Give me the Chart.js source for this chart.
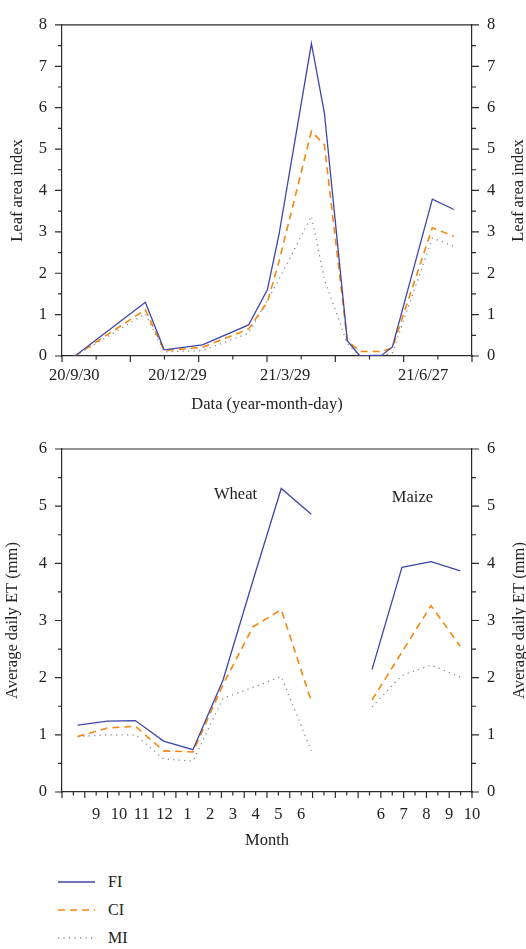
<!DOCTYPE html>
<html>
<head>
<meta charset="utf-8">
<title>Leaf area index and average daily ET</title>
<script src="https://cdn.jsdelivr.net/npm/chart.js@4.4.1/dist/chart.umd.min.js"></script>
<style>
    html, body { margin: 0; padding: 0; background: #fff; }
    body {
        width: 526px; height: 949px; position: relative; overflow: hidden;
        font-family: "Liberation Serif", "DejaVu Serif", serif; color: #222;
    }
    .panel { position: absolute; left: 0; }
    #lai-chart { top: 0; }
    #et-chart { top: 420px; }
    #legend { position: absolute; left: 0; top: 868px; width: 200px; height: 81px; }
    .legend-row { position: absolute; left: 58px; height: 28px; display: flex; align-items: center; font-size: 16px; }
    .legend-row svg { margin-right: 12px; }
</style>
</head>
<body>
<canvas id="lai-chart" class="panel" width="526" height="418"></canvas>
<canvas id="et-chart" class="panel" width="526" height="434"></canvas>
<div id="legend"></div>

<script>
// Top panel: leaf area index over the season
const laiTickPos = [0.36, 3.38, 6.53, 10.57];
const laiTickLabels = ['20/9/30', '20/12/29', '21/3/29', '21/6/27'];
const laiX  = [0.38, 2.44, 2.99, 4.11, 5.46, 6.01, 6.35, 7.30, 7.68, 8.35, 8.72, 9.36, 9.67, 10.84, 11.47];
const laiFI = [0, 1.30, 0.15, 0.27, 0.75, 1.60, 2.93, 7.55, 5.87, 0.37, 0, 0.02, 0.22, 3.79, 3.54];
const laiCI = [0, 1.12, 0.13, 0.21, 0.65, 1.30, 2.28, 5.43, 5.10, 0.37, 0.11, 0.11, 0.20, 3.10, 2.89];
const laiMI = [0, 1.02, 0.10, 0.13, 0.55, 1.35, 1.85, 3.38, 1.85, 0.30, 0, 0, 0.08, 2.85, 2.65];

// Bottom panel: average daily ET per month
const monthTickPos = [3, 5, 7, 9, 11, 13, 15, 17, 19, 21, 28, 30, 32, 34, 36];
const monthLabels = ['9', '10', '11', '12', '1', '2', '3', '4', '5', '6', '6', '7', '8', '9', '10'];
const wheatX = [1.37, 4.0, 6.44, 8.92, 11.5, 14.14, 16.77, 19.25, 21.89];
const maizeX = [27.22, 29.85, 32.4, 34.97];
const etFIWheat = [1.17, 1.24, 1.25, 0.89, 0.74, 1.96, 3.70, 5.31, 4.86];
const etCIWheat = [0.97, 1.12, 1.15, 0.72, 0.70, 1.88, 2.89, 3.19, 1.59];
const etMIWheat = [0.97, 1.00, 1.00, 0.58, 0.54, 1.64, 1.83, 2.02, 0.72];
const etFIMaize = [2.14, 3.93, 4.03, 3.87];
const etCIMaize = [1.61, 2.45, 3.26, 2.55];
const etMIMaize = [1.49, 2.04, 2.22, 2.01];

const seriesNames = ['FI', 'CI', 'MI'];

const AXIS_COLOR = '#2b2b2b';
const FONT = '"Liberation Serif", "DejaVu Serif", serif';
const seriesStyle = [
    { color: '#3f46a9', width: 1.3, dash: [] },
    { color: '#f7860f', width: 1.6, dash: [7, 5] },
    { color: '#8a8a8a', width: 1.3, dash: [1.2, 4.3] }
];

Chart.defaults.font.family = FONT;
Chart.defaults.font.size = 16.5;
Chart.defaults.color = '#222';

// Frame top edge, tick marks (major + minor), crop labels, right axis title
const panelDecor = {
    id: 'panelDecor',
    afterDraw(chart, args, opts) {
        const { ctx, chartArea: area, scales } = chart;
        ctx.save();
        ctx.strokeStyle = AXIS_COLOR;
        ctx.lineWidth = 1.2;
        ctx.beginPath();
        ctx.moveTo(area.left, area.top);
        ctx.lineTo(area.right, area.top);

        for (let v = scales.x.min; v <= scales.x.max; v += 1) {
            const len = (v % 2 === 0) ? 6 : 3.5;
            const px = scales.x.getPixelForValue(v);
            ctx.moveTo(px, area.bottom);
            ctx.lineTo(px, area.bottom + len);
        }
        for (let v = scales.y.min; v <= scales.y.max; v += 0.5) {
            const len = Number.isInteger(v) ? 7 : 4;
            const py = scales.y.getPixelForValue(v);
            ctx.moveTo(area.left, py);
            ctx.lineTo(area.left - len, py);
            ctx.moveTo(area.right, py);
            ctx.lineTo(area.right + len, py);
        }
        ctx.stroke();

        ctx.fillStyle = '#222';
        ctx.font = '16.5px ' + FONT;
        ctx.textAlign = 'center';
        (opts.notes || []).forEach(note => {
            ctx.textBaseline = 'alphabetic';
            ctx.fillText(note.text, scales.x.getPixelForValue(note.x), scales.y.getPixelForValue(note.y));
        });

        if (opts.rightTitle) {
            ctx.translate(opts.rightTitleX, (area.top + area.bottom) / 2);
            ctx.rotate(-Math.PI / 2);
            ctx.textBaseline = 'middle';
            ctx.fillText(opts.rightTitle, 0, 0);
        }
        ctx.restore();
    }
};

function lineDataset(label, points, style) {
    return {
        label: label,
        data: points,
        borderColor: style.color,
        borderWidth: style.width,
        borderDash: style.dash,
        pointRadius: 0,
        fill: false,
        tension: 0,
        spanGaps: false
    };
}

function pairUp(xs, ys) {
    return xs.map((x, i) => ({ x: x, y: ys[i] }));
}

function makePanel(canvasId, cfg) {
    return new Chart(document.getElementById(canvasId), {
        type: 'line',
        data: { datasets: cfg.datasets },
        options: {
            responsive: false,
            animation: false,
            layout: { padding: { top: cfg.padTop, left: 0, right: 0, bottom: 0 } },
            plugins: {
                legend: { display: false },
                tooltip: { enabled: false },
                panelDecor: {
                    notes: cfg.notes,
                    rightTitle: cfg.yTitle,
                    rightTitleX: cfg.rightTitleX
                }
            },
            scales: {
                x: {
                    type: 'linear',
                    min: 0,
                    max: cfg.xMax,
                    grid: { display: false, drawTicks: false },
                    border: { display: true, color: AXIS_COLOR, width: 1.2 },
                    afterFit: (scale) => { scale.height = 62; },
                    afterBuildTicks: (scale) => {
                        scale.ticks = cfg.tickPos.map(v => ({ value: v }));
                    },
                    ticks: {
                        autoSkip: false,
                        maxRotation: 0,
                        padding: cfg.xLabelPad,
                        callback: (value, index) => cfg.tickLabels[index]
                    },
                    title: {
                        display: true,
                        text: cfg.xTitle,
                        padding: { top: 0, bottom: 3 }
                    }
                },
                y: {
                    position: 'left',
                    min: 0,
                    max: cfg.yMax,
                    grid: { display: false, drawTicks: false },
                    border: { display: true, color: AXIS_COLOR, width: 1.2 },
                    afterFit: (scale) => { scale.width = 62; },
                    ticks: { stepSize: 1, padding: 15 },
                    title: {
                        display: true,
                        text: cfg.yTitle,
                        padding: { top: cfg.yTitlePad, bottom: 0 }
                    }
                },
                yRight: {
                    position: 'right',
                    min: 0,
                    max: cfg.yMax,
                    grid: { display: false, drawTicks: false },
                    border: { display: true, color: AXIS_COLOR, width: 1.2 },
                    afterFit: (scale) => { scale.width = 54; },
                    ticks: { stepSize: 1, padding: 15 }
                }
            }
        },
        plugins: [panelDecor]
    });
}

document.addEventListener('DOMContentLoaded', function() {
    // Leaf area index panel
    const laiSeries = [laiFI, laiCI, laiMI];
    makePanel('lai-chart', {
        datasets: laiSeries.map((ys, i) => lineDataset(seriesNames[i], pairUp(laiX, ys), seriesStyle[i])),
        padTop: 13,
        xMax: 12,
        yMax: 8,
        tickPos: laiTickPos,
        tickLabels: laiTickLabels,
        xLabelPad: 10,
        xTitle: 'Data (year-month-day)',
        yTitle: 'Leaf area index',
        yTitlePad: 7.7,
        rightTitleX: 518.5,
        notes: []
    });

    // ET panel, wheat and maize seasons separated by a gap
    const wheatSeries = [etFIWheat, etCIWheat, etMIWheat];
    const maizeSeries = [etFIMaize, etCIMaize, etMIMaize];
    const gapX = (wheatX[wheatX.length - 1] + maizeX[0]) / 2;
    makePanel('et-chart', {
        datasets: seriesNames.map((name, i) => lineDataset(name,
            pairUp(wheatX, wheatSeries[i]).concat([{ x: gapX, y: null }], pairUp(maizeX, maizeSeries[i])),
            seriesStyle[i])),
        padTop: 29,
        xMax: 36,
        yMax: 6,
        tickPos: monthTickPos,
        tickLabels: monthLabels,
        xLabelPad: 13,
        xTitle: 'Month',
        yTitle: 'Average daily ET (mm)',
        yTitlePad: 3.2,
        rightTitleX: 519.5,
        notes: [
            { text: 'Wheat', x: 15.24, y: 5.12 },
            { text: 'Maize', x: 30.77, y: 5.08 }
        ]
    });

    // Legend below the panels
    const legend = document.getElementById('legend');
    seriesNames.forEach((name, i) => {
        const s = seriesStyle[i];
        const row = document.createElement('div');
        row.className = 'legend-row';
        row.style.top = (i * 28) + 'px';
        row.innerHTML = '<svg width="38" height="6"><line x1="0" y1="3" x2="37" y2="3" stroke="' + s.color +
            '" stroke-width="' + s.width + '" stroke-dasharray="' + (s.dash.length ? s.dash.join(' ') : 'none') +
            '"/></svg><span>' + name + '</span>';
        legend.appendChild(row);
    });
});
</script>
</body>
</html>
